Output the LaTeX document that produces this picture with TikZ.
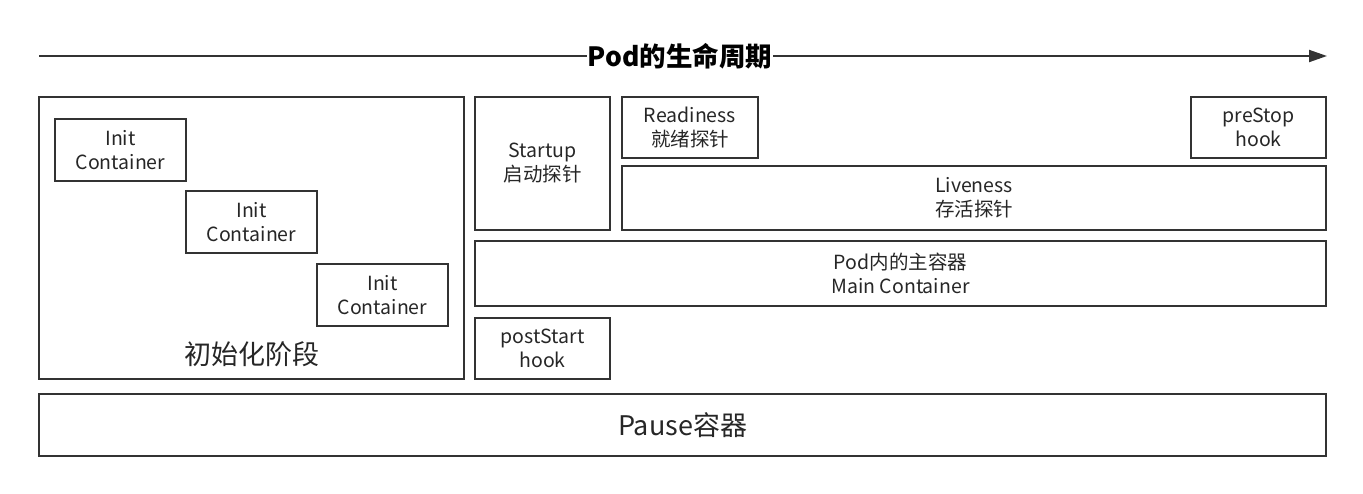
\documentclass[tikz,border=0pt]{standalone}
\usepackage{fontspec}
\setmainfont{Noto Sans CJK SC}
\usepackage{tikz}
\usepackage{xcolor}
\usetikzlibrary{positioning,arrows.meta}
\definecolor{edgegray}{HTML}{333333}
\tikzset{
    box/.style={
        rectangle, draw=edgegray, line width=2pt,
        inner sep=0pt, align=center,
        font=\fontsize{19.5}{24}\selectfont, text=black!85
    },
    bigtext/.style={
        font=\fontsize{27}{32}\selectfont, text=black!85
    }
}

\begin{document}
\begin{tikzpicture}[x=1pt, y=-1pt, >=Latex]
        \useasboundingbox (0,0) rectangle (1363,493);

        % Timeline
        \coordinate (tstart) at (39,56);
        \coordinate (tend) at (1327,56);
        \draw[->, line width=2pt, edgegray, -{Triangle[length=18pt, width=12pt]}] (tstart) -- (tend);
        \node[fill=white, inner sep=1pt, font=\fontsize{26.5}{30}\selectfont\bfseries] (title) at (680,56) {Pod的生命周期};

        % Init phase
        \node[box, minimum width=425pt, minimum height=282pt] (initphase) at (251.5,238) {};
        \node[bigtext] (initlabel) at (251.5,354) {初始化阶段};
        \node[box, minimum width=131pt, minimum height=62pt] (init1) at (120.5,150) {Init\\Container};
        \node[box, minimum width=131pt, minimum height=62pt] (init2) at (251.5,222) {Init\\Container};
        \node[box, minimum width=131pt, minimum height=62pt] (init3) at (382.5,295) {Init\\Container};

        % Probes and hooks
        \node[box, minimum width=135pt, minimum height=133pt] (startup) at (542.5,163.5) {Startup\\启动探针};
        \node[box, minimum width=136pt, minimum height=61pt] (readiness) at (690,127.5) {Readiness\\就绪探针};
        \node[box, minimum width=135pt, minimum height=61pt] (prestop) at (1258.5,127.5) {preStop\\hook};
        \node[box, minimum width=704pt, minimum height=64pt] (liveness) at (974,198) {Liveness\\存活探针};

        % Main container
        \node[box, minimum width=851pt, minimum height=65pt] (maincont) at (900.5,273.5) {Pod内的主容器\\Main Container};
        \node[box, minimum width=135pt, minimum height=61pt] (poststart) at (542.5,348.5) {postStart\\hook};

        % Pause
        \node[box, minimum width=1287pt, minimum height=62pt, bigtext] (pause) at (682.5,425) {Pause容器};

    \end{tikzpicture}
\end{document}
